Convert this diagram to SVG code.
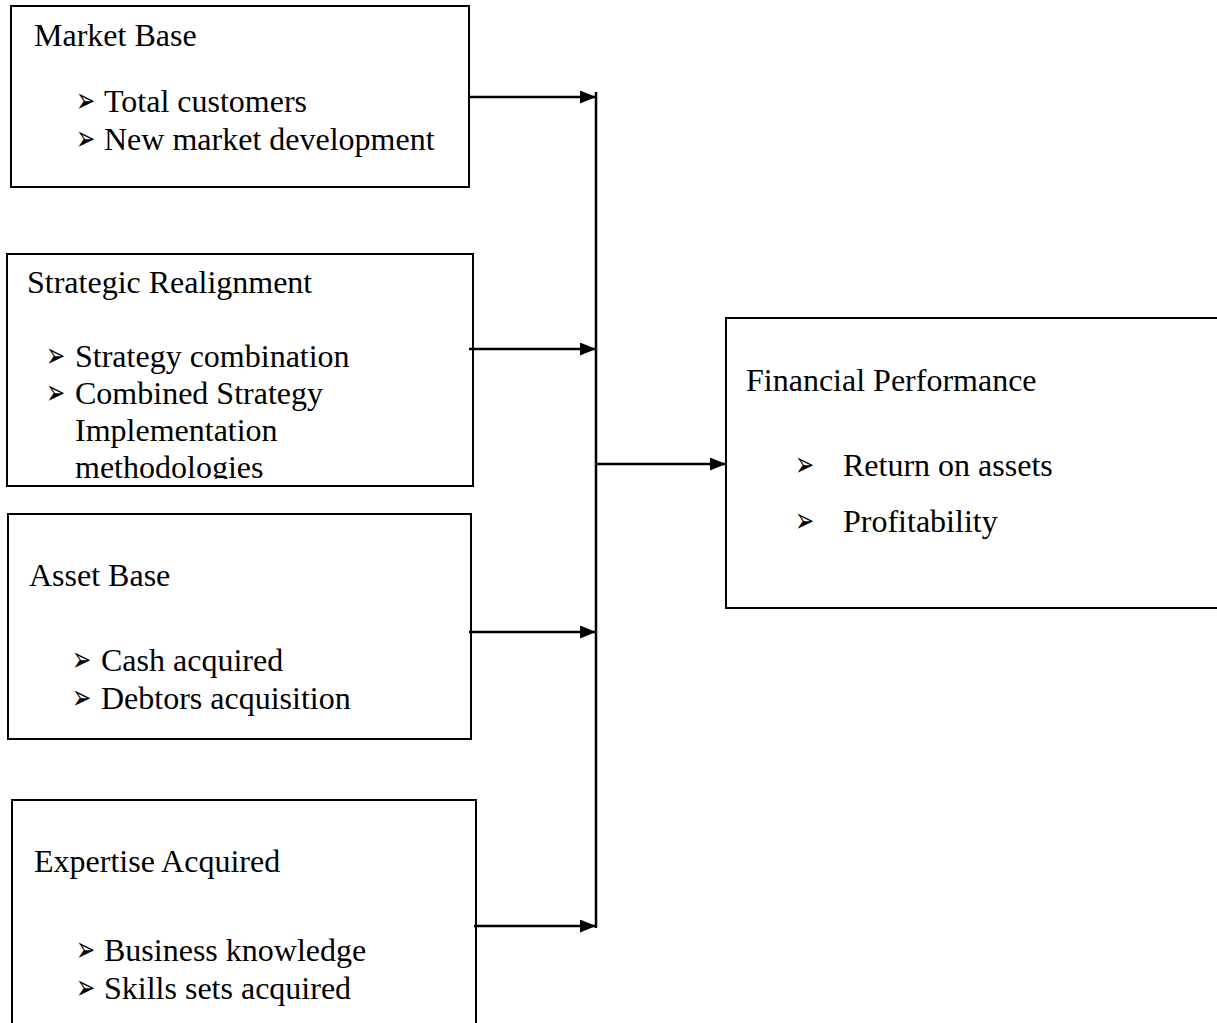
<svg xmlns="http://www.w3.org/2000/svg" width="1217" height="1023" viewBox="0 0 1217 1023">
<style>
  .box { fill: #fff; stroke: #000; stroke-width: 2; }
  .t { font-family: "Liberation Serif", "Times New Roman", serif; font-size: 32px; fill: #000; }
  .b { font-family: "DejaVu Sans", sans-serif; font-size: 23px; fill: #000; }
  .ln { stroke: #000; stroke-width: 2.5; fill: none; }
</style>
<defs>
  <marker id="ah" viewBox="0 0 16 13" refX="16" refY="6.5" markerWidth="16" markerHeight="13" markerUnits="userSpaceOnUse" orient="auto">
    <path d="M0,0 L16,6.5 L0,13 Z" fill="#000"/>
  </marker>
  <clipPath id="c2"><rect x="7" y="254" width="466" height="225"/></clipPath>
</defs>
<rect width="1217" height="1023" fill="#fff"/>

<g id="market-base">
  <rect class="box" x="11" y="6" width="458" height="181"/>
  <text class="t" x="34" y="46">Market Base</text>
  <text class="b" transform="translate(76,112) scale(1,1.5)">➢</text>
  <text class="t" x="104" y="112">Total customers</text>
  <text class="b" transform="translate(76,150) scale(1,1.5)">➢</text>
  <text class="t" x="104" y="150">New market development</text>
</g>

<g id="strategic-realignment">
  <rect class="box" x="7" y="254" width="466" height="232"/>
  <g clip-path="url(#c2)">
    <text class="t" x="27" y="293">Strategic Realignment</text>
    <text class="b" transform="translate(46,367) scale(1,1.5)">➢</text>
    <text class="t" x="75" y="367">Strategy combination</text>
    <text class="b" transform="translate(46,404) scale(1,1.5)">➢</text>
    <text class="t" x="75" y="404">Combined Strategy</text>
    <text class="t" x="75" y="441">Implementation</text>
    <text class="t" x="75" y="478">methodologies</text>
  </g>
</g>

<g id="asset-base">
  <rect class="box" x="8" y="514" width="463" height="225"/>
  <text class="t" x="29" y="586">Asset Base</text>
  <text class="b" transform="translate(72,671) scale(1,1.5)">➢</text>
  <text class="t" x="101" y="671">Cash acquired</text>
  <text class="b" transform="translate(72,709) scale(1,1.5)">➢</text>
  <text class="t" x="101" y="709">Debtors acquisition</text>
</g>

<g id="expertise-acquired">
  <rect class="box" x="12" y="800" width="464" height="260"/>
  <text class="t" x="34" y="872">Expertise Acquired</text>
  <text class="b" transform="translate(76,961) scale(1,1.5)">➢</text>
  <text class="t" x="104" y="961">Business knowledge</text>
  <text class="b" transform="translate(76,999) scale(1,1.5)">➢</text>
  <text class="t" x="104" y="999">Skills sets acquired</text>
</g>

<g id="financial-performance">
  <rect class="box" x="726" y="318" width="560" height="290"/>
  <text class="t" x="746" y="391">Financial Performance</text>
  <text class="b" transform="translate(795,476) scale(1,1.5)">➢</text>
  <text class="t" x="843" y="476">Return on assets</text>
  <text class="b" transform="translate(795,532) scale(1,1.5)">➢</text>
  <text class="t" x="843" y="532">Profitability</text>
</g>

<g id="connectors">
  <line class="ln" x1="596" y1="92" x2="596" y2="928"/>
  <line class="ln" x1="469" y1="97" x2="596" y2="97" marker-end="url(#ah)"/>
  <line class="ln" x1="469" y1="349" x2="596" y2="349" marker-end="url(#ah)"/>
  <line class="ln" x1="469" y1="632" x2="596" y2="632" marker-end="url(#ah)"/>
  <line class="ln" x1="474" y1="926" x2="596" y2="926" marker-end="url(#ah)"/>
  <line class="ln" x1="596" y1="464" x2="726" y2="464" marker-end="url(#ah)"/>
</g>
</svg>
